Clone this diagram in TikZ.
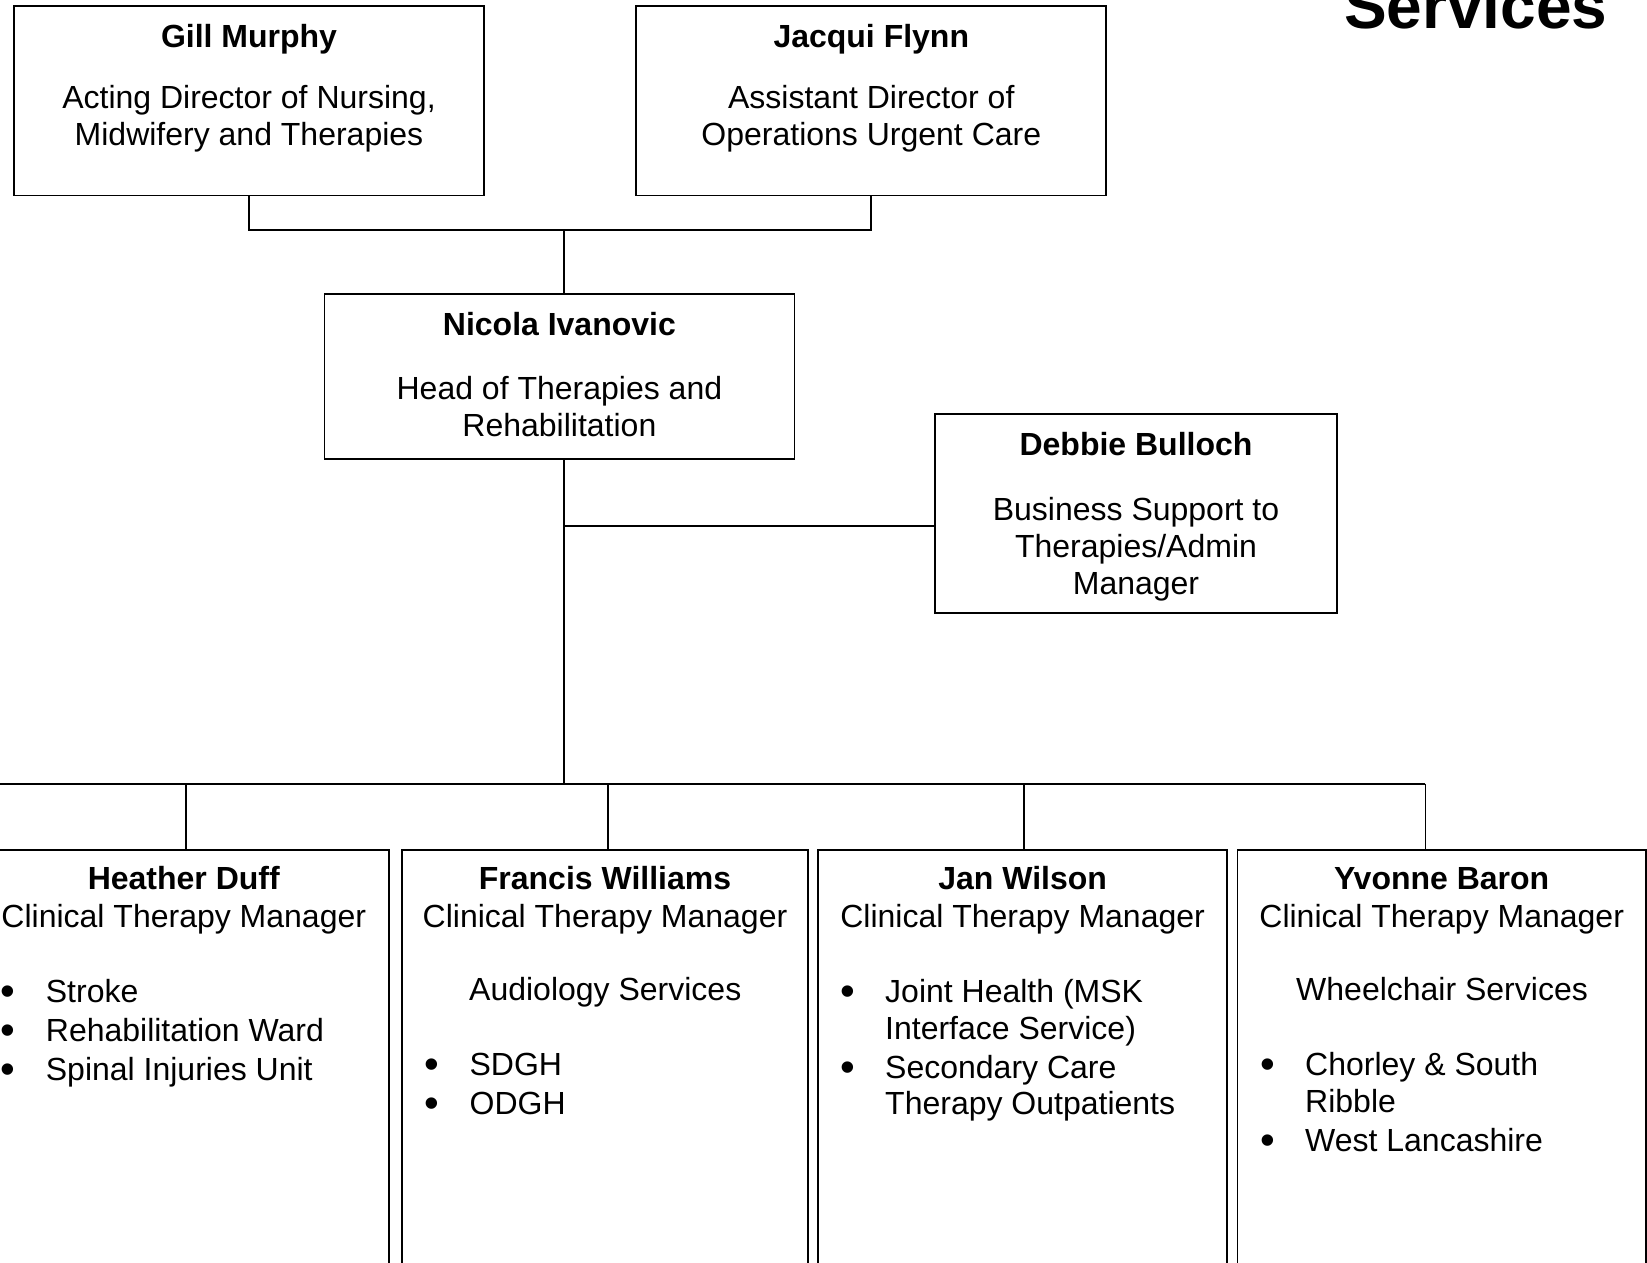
\documentclass[tikz,border=0pt]{standalone}
\usepackage{fontspec}
\setmainfont{Liberation Sans}
\newcommand{\bul}{\makebox[45pt][l]{\raisebox{-3pt}{\fontsize{42}{42}\selectfont •}}}
\newcommand{\ind}{\hspace*{45pt}}

\begin{document}
\begin{tikzpicture}[
        x=1pt,
        y=-1pt,
        every node/.style={font=\fontsize{32}{36.8}\selectfont, inner sep=0pt},
        post/.style={
            draw,
            line width=1.8pt,
            inner sep=0pt
        },
        toppost/.style={post, minimum width=470pt, minimum height=189pt},
        ctmpost/.style={post, anchor=north, minimum width=408pt, minimum height=470pt},
        link/.style={line width=1.8pt},
        person/.style={font=\fontsize{32}{36.8}\selectfont\bfseries, anchor=base},
        role/.style={align=center, anchor=north},
        duties/.style={align=left, anchor=north west}
    ]
        \useasboundingbox (0,0) rectangle (1647,1263);
        \clip (0,0) rectangle (1647,1263);

        % heading, cut off by the page edge
        \node[font=\fontsize{64}{70}\selectfont\bfseries, anchor=base west]
            (heading) at (1344,28.5) {Services};

        % Directors
        \node[toppost] (gill) at (249,100.9) {};
        \node[person] (gill-name) at (249,47.2) {Gill Murphy};
        \node[role] (gill-role) at (249,85.5)
            {Acting Director of Nursing,\\Midwifery and Therapies};

        \node[toppost] (jacqui) at (871.3,100.9) {};
        \node[person] (jacqui-name) at (871.3,47.2) {Jacqui Flynn};
        \node[role] (jacqui-role) at (871.3,85.5)
            {Assistant Director of\\Operations Urgent Care};

        % Head of service
        \node[post, minimum width=470pt, minimum height=165pt]
            (nicola) at (559.4,376.5) {};
        \node[person] (nicola-name) at (559.4,335) {Nicola Ivanovic};
        \node[role] (nicola-role) at (559.4,376.5)
            {Head of Therapies and\\Rehabilitation};

        \node[post, minimum width=402pt, minimum height=199.5pt]
            (debbie) at (1136,513.6) {};
        \node[person] (debbie-name) at (1136,455.8) {Debbie Bulloch};
        \node[role] (debbie-role) at (1136,497.3)
            {Business Support to\\Therapies/Admin\\Manager};

        % Clinical Therapy Managers, boxes run off the page
        \foreach \n/\x/\w in {heather/183.8/409.6, francis/605/405.5,
                              jan/1022.6/408.6, yvonne/1441.7/408.6} {
            \node[ctmpost, minimum width=\w pt] (\n) at (\x,848.7) {};
            \node (\n-title) at (\x,927.5) [anchor=base] {Clinical Therapy Manager};
        }
        \node[person] (heather-name) at (183.8,889.6) {Heather Duff};
        \node[person] (francis-name) at (605,889.6) {Francis Williams};
        \node[person] (jan-name) at (1022.6,889.6) {Jan Wilson};
        \node[person] (yvonne-name) at (1441.7,889.6) {Yvonne Baron};

        \node[duties] (heather-list) at (0.7,979)
            {\bul Stroke\\[2.2pt]\bul Rehabilitation Ward\\[2.2pt]\bul Spinal Injuries Unit};

        \node[anchor=base west] (francis-unit) at (469,1000) {Audiology Services};
        \node[duties] (francis-list) at (424.4,1052.5)
            {\bul SDGH\\[2.2pt]\bul ODGH};

        \node[duties] (jan-list) at (840,979)
            {\bul Joint Health (MSK\\\ind Interface Service)\\[2.2pt]%
             \bul Secondary Care\\\ind Therapy Outpatients};

        \node[anchor=base west] (yvonne-unit) at (1296,1000) {Wheelchair Services};
        \node[duties] (yvonne-list) at (1260,1052.5)
            {\bul Chorley \& South\\\ind Ribble\\[2.2pt]\bul West Lancashire};

        % Connectors
        \coordinate (top-join) at (564,230);
        \draw[link] (gill.south) |- (top-join) -| (jacqui.south);
        \draw[link] (top-join) -- (top-join |- nicola.north);

        \coordinate (bus) at (564,783.6);
        \coordinate (branch) at (564,526.3);
        \draw[link] (bus |- nicola.south) -- (bus);
        \draw[link] (branch) -- (branch -| debbie.west);

        \coordinate (bus-left) at (-5,783.6);
        \foreach \n/\x in {heather/185.9, francis/608.2, jan/1024.1, yvonne/1425.4} {
            \coordinate (bus-\n) at (\x,783.6);
            \draw[link] (bus-\n) -- (bus-\n |- \n.north);
        }
        \draw[link] (bus-left) -- (bus-yvonne);

    \end{tikzpicture}
\end{document}
